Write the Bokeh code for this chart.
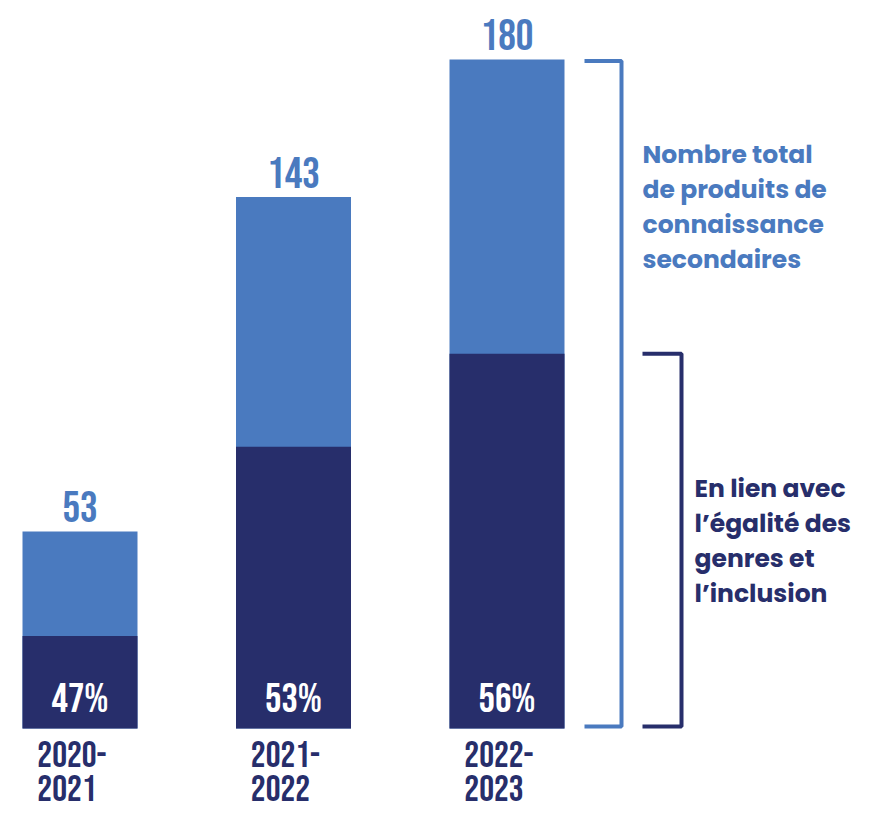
from bokeh.plotting import figure
from bokeh.models import ColumnDataSource
from bokeh.core.properties import value
from bokeh.embed import file_html
from bokeh.resources import INLINE

# ---- data ----
periods = ["2020-2021", "2021-2022", "2022-2023"]
totals = [53, 143, 180]
gender_pct = [47, 53, 56]
label_total = "Nombre total\nde produits de\nconnaissance\nsecondaires"
label_gender = "En lien avec\nl\u2019égalité des\ngenres et\nl\u2019inclusion"

LIGHT = "#4a7abf"
DARK = "#272e6b"
NUM_FONT = value("Bebas Neue")
TXT_FONT = value("Poppins")

xs = list(range(len(periods)))
dark_vals = [t * p / 100 for t, p in zip(totals, gender_pct)]
line1 = [p.split("-")[0] + "-" for p in periods]
line2 = [p.split("-")[1] for p in periods]

W, H = 853, 812
px_x = 213.5          # pixels per category unit
base_px = 728         # pixel row of the zero line
px_y = (base_px - 59) / 180.0
x0 = -79.5 / px_x
y0 = -(H - base_px) / px_y
fix = 13              # baseline correction for the condensed font

p = figure(width=W, height=H, output_backend="svg", toolbar_location=None,
           x_range=(x0, x0 + W / px_x), y_range=(y0, y0 + H / px_y),
           min_border=0)
p.axis.visible = False
p.grid.visible = False
p.outline_line_color = None
p.background_fill_color = "white"

src = ColumnDataSource(dict(x=xs, total=totals, dark=dark_vals,
                            tlab=[str(t) for t in totals],
                            plab=[f"{v}%" for v in gender_pct],
                            l1=line1, l2=line2,
                            xl=[x - 0.27 + 15 / px_x for x in xs]))

bw = 115 / px_x
p.vbar(x="x", top="total", bottom=0, width=bw, color=LIGHT, line_color=None, source=src)
p.vbar(x="x", top="dark", bottom=0, width=bw, color=DARK, line_color=None, source=src)

p.text(x="x", y="total", text="tlab", source=src, text_align="center",
       text_baseline="alphabetic", y_offset=-12 - fix, text_font=NUM_FONT,
       text_font_size="44px", text_color=LIGHT)
p.text(x="x", y=0, text="plab", source=src, text_align="center",
       text_baseline="alphabetic", y_offset=-16 - fix, text_font=NUM_FONT,
       text_font_size="41px", text_color="white")
p.text(x="xl", y=0, text="l1", source=src, text_align="left",
       text_baseline="alphabetic", y_offset=38 - fix, text_font=NUM_FONT,
       text_font_size="37px", text_color=DARK)
p.text(x="xl", y=0, text="l2", source=src, text_align="left",
       text_baseline="alphabetic", y_offset=72 - fix, text_font=NUM_FONT,
       text_font_size="37px", text_color=DARK)

# brackets on the last bar
last = xs[-1]
tot = totals[-1]
dk = dark_vals[-1]
b1l, b1r = last + (584 - 506.5) / px_x, last + (621 - 506.5) / px_x
b2l, b2r = last + (642 - 506.5) / px_x, last + (681 - 506.5) / px_x
yb = 2 / px_y
p.line([b1l, b1r, b1r, b1l], [tot - 0.4, tot - 0.4, yb, yb], line_color=LIGHT, line_width=4)
p.line([b2l, b2r, b2r, b2l], [dk, dk, yb, yb], line_color=DARK, line_width=4)

p.text(x=[b2l], y=[(tot + dk) / 2], text=[label_total], text_align="left",
       text_baseline="middle", text_font=TXT_FONT, text_font_style="bold",
       text_font_size="25px", text_line_height=1.0, text_color=LIGHT)
p.text(x=[last + (694 - 506.5) / px_x], y=[dk / 2], text=[label_gender],
       text_align="left", text_baseline="middle", text_font=TXT_FONT,
       text_font_style="bold", text_font_size="25px", text_line_height=1.0,
       text_color=DARK)

open("out.html", "w").write(file_html(p, INLINE))
